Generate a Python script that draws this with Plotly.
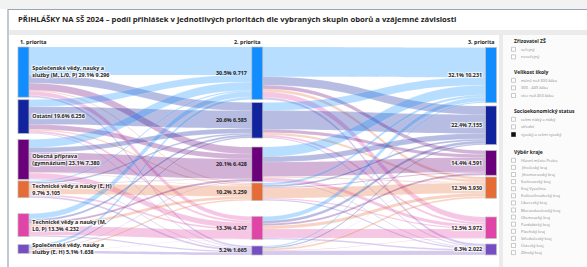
import plotly.graph_objects as go

# ---------------- data ----------------
groups_p1 = ["Společenské vědy, nauky a<br>služby (M, L/0, P)", "Ostatní", "Obecná příprava<br>(gymnázium)",
             "Technické vědy a nauky (E, H)<br>", "Technické vědy a nauky (M,<br>L0, P)",
             "Společenské vědy, nauky a<br>služby (E, H)"]
p1_values = [9296, 6256, 7380, 3105, 4232, 1638]
p1_pct = [29.1, 19.6, 23.1, 9.7, 13.3, 5.1]
p2_values = [9717, 6585, 6428, 3259, 4247, 1665]
p2_pct = [30.5, 20.6, 20.1, 10.2, 13.3, 5.2]
p3_values = [10231, 7155, 4591, 3930, 3972, 2022]
p3_pct = [32.1, 22.4, 14.4, 12.3, 12.5, 6.3]

# estimated flows 1. priorita -> 2. priorita (rows: source, cols: target)
flows_12 = [
    [5200, 1500, 1300, 200, 800, 296],
    [1300, 3300, 900, 250, 350, 156],
    [1500, 900, 3700, 100, 1000, 180],
    [250, 250, 50, 1900, 350, 305],
    [1000, 400, 400, 500, 1700, 232],
    [467, 235, 78, 309, 47, 496],
]
# estimated flows 2. priorita -> 3. priorita
flows_23 = [
    [5500, 1600, 700, 500, 1000, 417],
    [1500, 3500, 600, 400, 400, 185],
    [1800, 1000, 2700, 200, 600, 128],
    [400, 350, 150, 1900, 200, 259],
    [800, 500, 400, 600, 1700, 247],
    [231, 205, 41, 330, 72, 786],
]
column_titles = ["1. priorita", "2. priorita", "3. priorita"]
title_text = ("PŘIHLÁŠKY NA SŠ 2024 – podíl přihlášek v jednotlivých prioritách dle vybraných "
              "skupin oborů a vzájemné závislosti")

filter_sections = [
    ("Zřizovatel ZŠ", ["veřejný", "neveřejný"]),
    ("Velikost školy", ["méně než 300 žáků", "300 - 449 žáků", "více než 450 žáků"]),
    ("Socioekonomický status", ["velmi nízký a nízký", "střední", "vysoký a velmi vysoký"]),
    ("Výběr kraje", ["Hlavní město Praha", "Jihočeský kraj", "Jihomoravský kraj", "Karlovarský kraj",
                     "Kraj Vysočina", "Královéhradecký kraj", "Liberecký kraj", "Moravskoslezský kraj",
                     "Olomoucký kraj", "Pardubický kraj", "Plzeňský kraj", "Středočeský kraj",
                     "Ústecký kraj", "Zlínský kraj"]),
]
checked_items = ["vysoký a velmi vysoký"]

# ---------------- style / layout ----------------
W, H = 587, 267
colors = ["#118DFF", "#12239E", "#6B007B", "#E66C37", "#E044A7", "#744EC2"]


def rgba(hexc, a):
    h = hexc.lstrip("#")
    return f"rgba({int(h[0:2],16)},{int(h[2:4],16)},{int(h[4:6],16)},{a})"


def fmt(v):
    return f"{v:,}".replace(",", ".")


def px(x):
    return x / W


def py(y):
    return 1 - y / H


tops = [
    [47, 99.7, 139.5, 180.9, 213.7, 244.6],
    [47, 102.5, 147, 183, 216.5, 246],
    [47.5, 106, 150.5, 177, 217, 244],
]
col_cx = [23, 257.25, 491.5]
dom_top, dom_bot = 46, 257
dom_h = dom_bot - dom_top
ky = 0.0054
thick = 11

n = 6
v1 = [sum(r) for r in flows_12]
v2 = [max(sum(flows_12[i][j] for i in range(n)), sum(flows_23[j])) for j in range(n)]
v3 = [sum(flows_23[i][j] for i in range(n)) for j in range(n)]
node_vals = [v1, v2, v3]
total = max(sum(v1), sum(v2), sum(v3))
pad = (dom_h - ky * total) / (n - 1)

labels, node_x, node_y, node_colors = [], [], [], []
centers = []
xs = [0.001, 0.5, 0.999]
for c in range(3):
    cc = []
    for i in range(n):
        cy = tops[c][i] + node_vals[c][i] * ky / 2
        cc.append(cy)
        node_x.append(xs[c])
        node_y.append((cy - dom_top) / dom_h)
        node_colors.append(colors[i])
    centers.append(cc)

for i in range(n):
    sep = "" if groups_p1[i].endswith("<br>") else " "
    labels.append(f"<b>{groups_p1[i]}{sep}{p1_pct[i]}% {fmt(p1_values[i])}</b>")
labels += [""] * n
labels += [f"<b>{p3_pct[i]}% {fmt(p3_values[i])}</b>" for i in range(n)]

src, tgt, val, lcol = [], [], [], []
for i in range(n):
    for j in range(n):
        src.append(i); tgt.append(n + j); val.append(flows_12[i][j])
        lcol.append(rgba(colors[j], 0.3))
for i in range(n):
    for j in range(n):
        src.append(n + i); tgt.append(2 * n + j); val.append(flows_23[i][j])
        lcol.append(rgba(colors[j], 0.3))

fig = go.Figure(go.Sankey(
    arrangement="fixed",
    domain=dict(x=[px(col_cx[0]), px(col_cx[2])], y=[py(dom_bot), py(dom_top)]),
    node=dict(label=labels, x=node_x, y=node_y, color=node_colors, pad=pad, thickness=thick,
              line=dict(color="rgba(190,190,190,0.9)", width=0.8)),
    link=dict(source=src, target=tgt, value=val, color=lcol,
              line=dict(color="rgba(255,255,255,0.35)", width=0.4)),
    textfont=dict(family="Open Sans", size=5.4, color="#252423"),
    hoverinfo="skip",
))

shapes = []
ann = []
shapes.append(dict(type="rect", xref="paper", yref="paper", x0=0, x1=1, y0=py(0), y1=py(9),
                   fillcolor="#f2f2f2", line_width=0, layer="below"))
shapes.append(dict(type="rect", xref="paper", yref="paper", x0=px(8), x1=px(W + 5), y0=py(H + 5), y1=py(9.5),
                   fillcolor="rgba(0,0,0,0)", line=dict(color="#9aa6b4", width=1.2), layer="above"))
shapes.append(dict(type="rect", xref="paper", yref="paper", x0=px(9), x1=1, y0=py(35), y1=py(30),
                   fillcolor="#ebebeb", line_width=0, layer="below"))
shapes.append(dict(type="rect", xref="paper", yref="paper", x0=px(499), x1=px(503), y0=0, y1=py(35),
                   fillcolor="#ebebeb", line_width=0, layer="below"))
shapes.append(dict(type="rect", xref="paper", yref="paper", x0=px(503), x1=1, y0=0, y1=py(35),
                   fillcolor="#fbfbfb", line_width=0, layer="below"))

ann.append(dict(text=f"<b>{title_text}</b>", x=px(16), y=py(19.5), xref="paper", yref="paper",
                xanchor="left", yanchor="middle", showarrow=False,
                font=dict(family="Open Sans", size=7.7, color="#252423")))

hdr_x = [col_cx[0] - thick / 2, col_cx[1] + thick / 2, col_cx[2] + thick / 2]
hdr_anchor = ["left", "right", "right"]
for k in range(3):
    ann.append(dict(text=f"<b>{column_titles[k]}</b>", x=px(hdr_x[k]), y=py(41.5), xref="paper", yref="paper",
                    xanchor=hdr_anchor[k], yanchor="middle", showarrow=False,
                    font=dict(family="Open Sans", size=5.4, color="#252423")))

for i in range(n):
    ann.append(dict(text=f"<b>{p2_pct[i]}% {fmt(p2_values[i])}</b>", x=px(col_cx[1] - thick / 2 - 2.5),
                    y=py(centers[1][i]), xref="paper", yref="paper", xanchor="right", yanchor="middle",
                    showarrow=False, font=dict(family="Open Sans", size=5.4, color="#252423")))

sec_y = [41, 72, 111, 152]
step = 7.1
for s, (head, items) in enumerate(filter_sections):
    y0 = sec_y[s]
    ann.append(dict(text=f"<b>{head}</b>", x=px(511.5), y=py(y0), xref="paper", yref="paper",
                    xanchor="left", yanchor="middle", showarrow=False,
                    font=dict(family="Open Sans", size=5, color="#252423")))
    for k, it in enumerate(items):
        yy = y0 + 8.3 + k * (step if s == 3 else 7.6)
        chk = it in checked_items
        shapes.append(dict(type="rect", xref="paper", yref="paper", x0=px(511.5), x1=px(515.5),
                           y0=py(yy + 2), y1=py(yy - 2),
                           fillcolor="#111111" if chk else "white",
                           line=dict(color="#111111" if chk else "#a8a8a8", width=0.6)))
        ann.append(dict(text=it, x=px(519), y=py(yy), xref="paper", yref="paper",
                        xanchor="left", yanchor="middle", showarrow=False,
                        font=dict(family="Open Sans", size=4, color="#8a8a8a")))

fig.update_layout(width=W, height=H, margin=dict(l=0, r=0, t=0, b=0),
                  paper_bgcolor="white", shapes=shapes, annotations=ann, showlegend=False)
fig.write_html("out.html", config=dict(displayModeBar=False),
               post_script="document.body.style.margin='0';document.body.style.padding='0';")
